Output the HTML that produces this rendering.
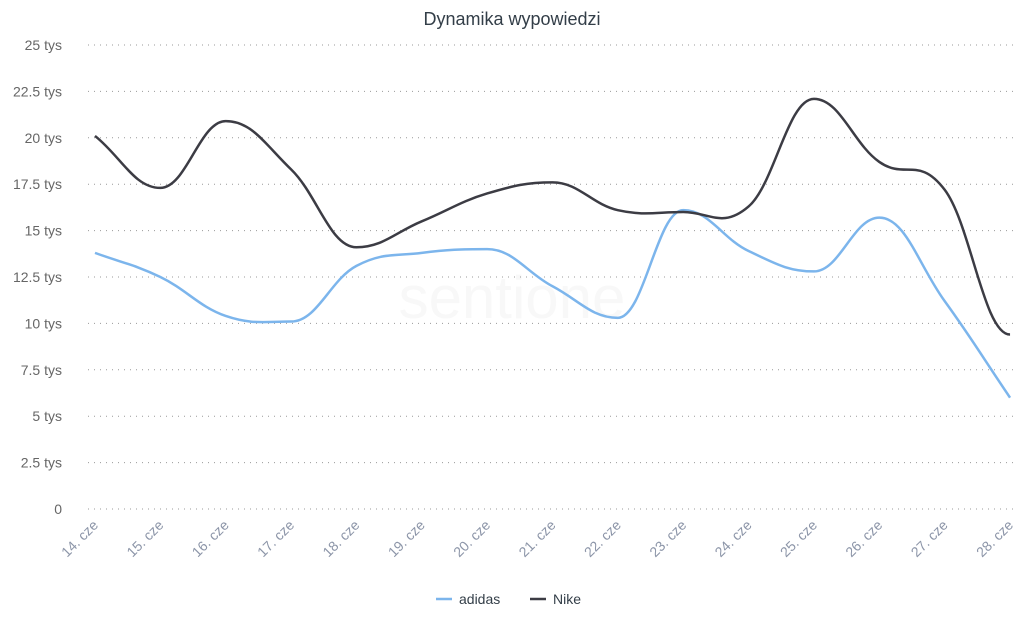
<!DOCTYPE html>
<html><head><meta charset="utf-8"><style>
html,body{margin:0;padding:0;background:#fff;}
svg{display:block;font-family:"Liberation Sans",sans-serif;}
</style></head><body>
<svg id="c" width="1024" height="626" viewBox="0 0 1024 626" xmlns="http://www.w3.org/2000/svg">
<text x="512" y="25" text-anchor="middle" font-size="18" fill="#333e48">Dynamika wypowiedzi</text>
<text x="512" y="318" text-anchor="middle" font-size="60" fill="#f8f8f8">sentione</text>
<g id="grid"></g>
<g id="lines"></g>
<g font-size="14" fill="#333e48">
<line x1="436" y1="599" x2="452" y2="599" stroke="#7cb5ec" stroke-width="2.5"/>
<text x="459" y="604">adidas</text>
<line x1="530" y1="599" x2="546" y2="599" stroke="#3c3c44" stroke-width="2.5"/>
<text x="553" y="604">Nike</text>
</g>
</svg>
<script>
var NS="http://www.w3.org/2000/svg";
var g=document.getElementById("grid"),L=document.getElementById("lines");
function el(t,a,p,txt){var e=document.createElementNS(NS,t);for(var k in a)e.setAttribute(k,a[k]);if(txt!=null)e.textContent=txt;p.appendChild(e);return e;}
var y0=509,s=18.56;
function Y(v){return y0-v*s;}
var labs=["0","2.5 tys","5 tys","7.5 tys","10 tys","12.5 tys","15 tys","17.5 tys","20 tys","22.5 tys","25 tys"];
for(var i=0;i<=10;i++){var y=Y(i*2.5);
el("line",{x1:88,x2:1016,y1:y,y2:y,stroke:"#999","stroke-width":1,"stroke-dasharray":"1,5"},g);
el("text",{x:62,y:y+5,"text-anchor":"end","font-size":14,fill:"#666"},g,labs[i]);}
function X(i){return 95+i*65.36;}
for(var i=0;i<15;i++){var x=X(i);
el("text",{x:x+4,y:526,"text-anchor":"end","font-size":14,fill:"#8c95a8",transform:"rotate(-45 "+(x+4)+" 526)"},g,(14+i)+". cze");}
var nike=[20.1,17.3,20.9,18.3,14.1,15.5,17.0,17.6,16.1,16.0,16.3,22.1,18.7,17.2,9.4];
var adi=[13.8,12.5,10.4,10.1,13.1,13.8,14.0,12.0,10.3,16.1,13.9,12.8,15.7,11.2,6.0];
function path(d){var p=d.map(function(v,i){return [X(i),Y(v)];});var s="M"+p[0][0]+","+p[0][1];var sm=1.5;
function cp(pr,cu,nx,dir){var lp=(cu[0]*sm+pr[0])/(sm+1),ly=(cu[1]*sm+pr[1])/(sm+1),rp=(cu[0]*sm+nx[0])/(sm+1),ry=(cu[1]*sm+nx[1])/(sm+1);
var cy=cu[1];var r=0;if(!((ly>cy&&ry>cy)||(ly<cy&&ry<cy))&&rp!==lp){r=(ry-ly)/(rp-lp);}
return dir<0?[lp,cy-(cu[0]-lp)*r]:[rp,cy+(rp-cu[0])*r];}
for(var i=0;i<p.length-1;i++){var a=p[i-1]||p[i],b=p[i],c=p[i+1],e=p[i+2]||c;
var c1=cp(a,b,c,1),c2=cp(b,c,e,-1);
s+=" C"+c1[0]+","+c1[1]+" "+c2[0]+","+c2[1]+" "+c[0]+","+c[1];}
return s;}
el("path",{d:path(adi),fill:"none",stroke:"#7cb5ec","stroke-width":2.5},L);
el("path",{d:path(nike),fill:"none",stroke:"#3c3c44","stroke-width":2.5},L);
</script>
</body></html>
